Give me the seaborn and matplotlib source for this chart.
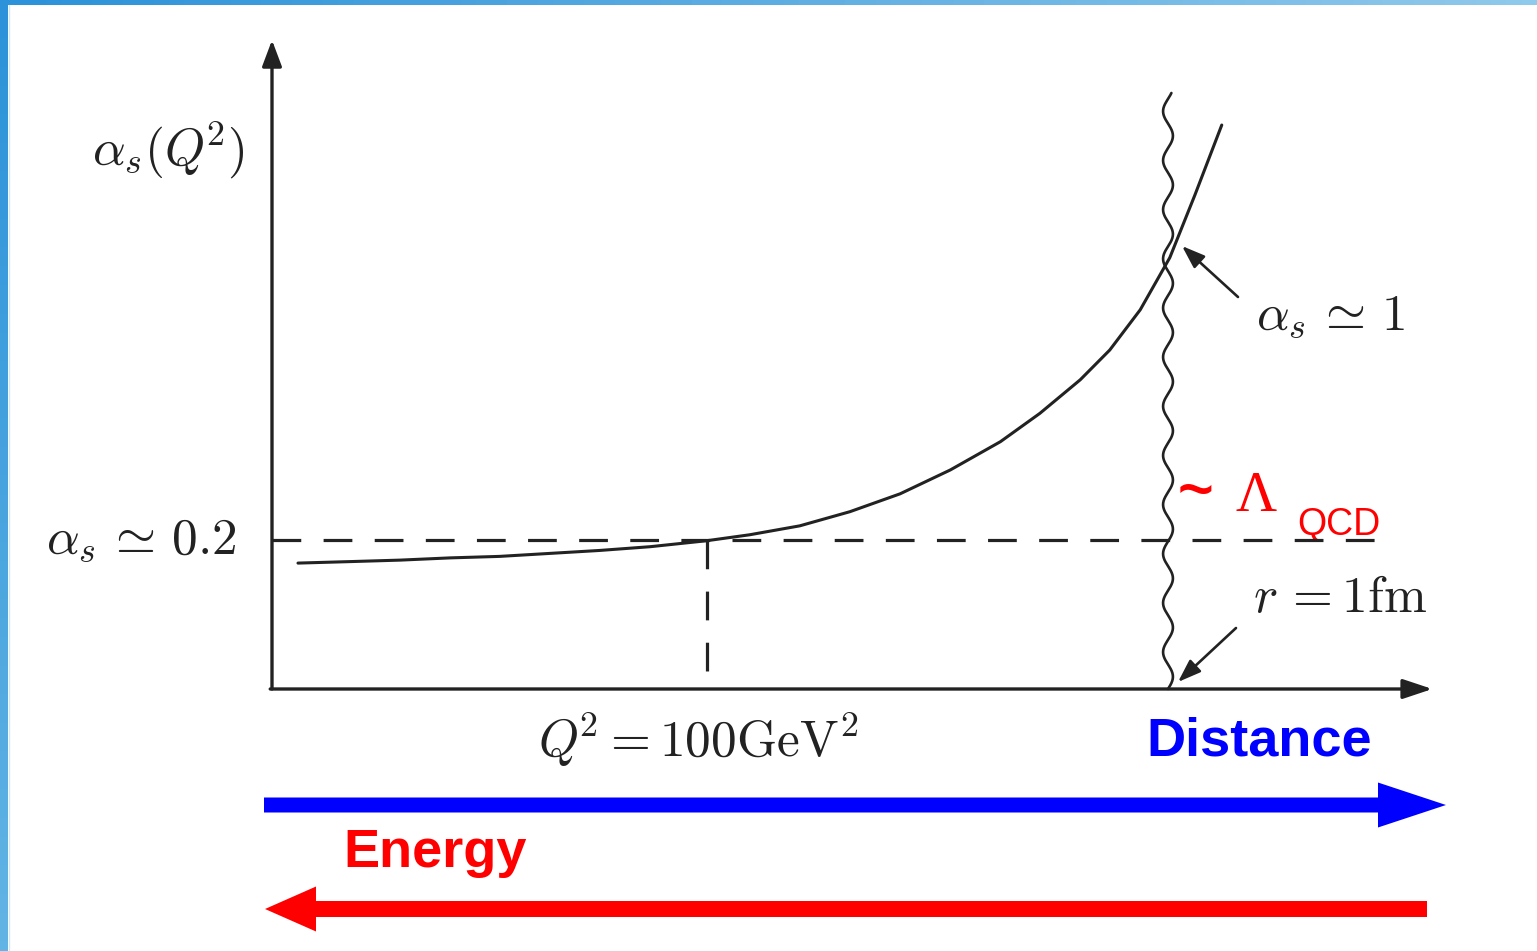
import numpy as np
import matplotlib
matplotlib.use("Agg")
import matplotlib.pyplot as plt
from matplotlib.colors import LinearSegmentedColormap
from matplotlib.patches import FancyArrow
import seaborn as sns
import pandas as pd

# schematic running coupling (r in fm, alpha in schematic units)
r_fm = [0.029, 0.087, 0.143, 0.199, 0.254, 0.310, 0.366, 0.422, 0.485, 0.533, 0.589,
        0.645, 0.701, 0.757, 0.813, 0.857, 0.902, 0.935, 0.969, 1.002, 1.030, 1.060]
alpha = [0.169, 0.171, 0.173, 0.176, 0.178, 0.182, 0.186, 0.191, 0.199, 0.207, 0.219,
         0.238, 0.262, 0.294, 0.332, 0.370, 0.415, 0.455, 0.509, 0.579, 0.663, 0.757]
alpha_ref = 0.2      # alpha_s ~ 0.2
r_ref = 0.485        # Q^2 = 100 GeV^2
r_conf = 1.0         # r = 1 fm
r_dash_end = 1.234
x_axis_end = 1.295
y_axis_end = 0.871
wave_top = 0.80

sns.set_theme(style="white")
plt.rcParams["mathtext.fontset"] = "cm"
plt.rcParams["font.family"] = ["DejaVu Sans"]

W, H = 1537, 951
fig = plt.figure(figsize=(W / 100, H / 100), dpi=100)
fig.patch.set_facecolor("white")

# overlay in pixel coordinates for decoration and labels
ov = fig.add_axes([0, 0, 1, 1])
ov.axis("off")

# blue frame (gradient)
cm_left = LinearSegmentedColormap.from_list("l", ["#2c92d9", "#62b4e4"])
cm_top = LinearSegmentedColormap.from_list("t", ["#2c92d9", "#8fc9eb"])
ov.imshow(np.linspace(0, 1, 100)[:, None], cmap=cm_left, extent=[0, 8, H, 0], aspect="auto")
ov.imshow(np.linspace(0, 1, 100)[None, :], cmap=cm_top, extent=[0, W, 5, 0], aspect="auto")
ov.plot([9, 9], [5, H], color="#cde8f6", lw=1)
ov.set_xlim(0, W)
ov.set_ylim(H, 0)

# data axes, mapped so the schematic sits where it does in the figure
ax = fig.add_axes([0, 0, 1, 1], facecolor="none")
ax.set_xlim(-272 / 896, (W - 272) / 896)
ax.set_ylim(-(H - 689) / 745, 689 / 745)
ax.axis("off")

ink = "#222222"
df = pd.DataFrame({"r": r_fm, "alpha": alpha})
sns.lineplot(data=df, x="r", y="alpha", ax=ax, color=ink, lw=2.2, estimator=None,
             solid_joinstyle="round", solid_capstyle="round")

# coordinate axes with arrowheads
ax.annotate("", xy=(0, y_axis_end), xytext=(0, 0),
            arrowprops=dict(arrowstyle="-|>,head_length=0.8,head_width=0.3", lw=2.4,
                            color=ink, shrinkA=0, shrinkB=0, mutation_scale=20))
ax.annotate("", xy=(x_axis_end, 0), xytext=(-0.002, 0),
            arrowprops=dict(arrowstyle="-|>,head_length=0.9,head_width=0.3", lw=2.4,
                            color=ink, shrinkA=0, shrinkB=0, mutation_scale=20))

# dashed guides
ax.plot([0, r_dash_end], [alpha_ref, alpha_ref], color=ink, lw=2.3, dashes=(9, 7))
ax.plot([r_ref, r_ref], [alpha_ref, 0], color=ink, lw=2.3, dashes=(9, 7))

# wavy line at r = 1 fm
yy = np.linspace(0, wave_top, 600)
ax.plot(r_conf + 0.0055 * np.sin(2 * np.pi * yy / 0.066), yy, color=ink, lw=1.9)

# small pointer arrows
ax.annotate("", xy=((1182 - 272) / 896, (689 - 246) / 745), xytext=((1238 - 272) / 896, (689 - 297) / 745),
            arrowprops=dict(arrowstyle="-|>,head_length=0.7,head_width=0.25", lw=1.9,
                            color=ink, shrinkA=0, shrinkB=0, mutation_scale=20))
ax.annotate("", xy=((1178 - 272) / 896, (689 - 682) / 745), xytext=((1236 - 272) / 896, (689 - 628) / 745),
            arrowprops=dict(arrowstyle="-|>,head_length=0.7,head_width=0.25", lw=1.9,
                            color=ink, shrinkA=0, shrinkB=0, mutation_scale=20))

# labels
fs = 37
ov.text(92, 150, r"$\alpha_s(Q^{\!2})$", fontsize=fs, color=ink, va="center", ha="left")
ov.text(46, 540, r"$\alpha_s\,\simeq\,0.2$", fontsize=fs, color=ink, va="center", ha="left")
ov.text(1256, 316, r"$\alpha_s\,\simeq\,1$", fontsize=fs, color=ink, va="center", ha="left")
ov.text(1253, 598, r"$r\, = 1\mathrm{fm}$", fontsize=fs, color=ink, va="center", ha="left")
ov.text(538, 740, r"$Q^{\!2} = 100\mathrm{GeV}^2$", fontsize=fs, color=ink, va="center", ha="left")

ov.text(1146, 742, "Distance", fontsize=39, fontweight="bold", color="#0000ff",
        family=["Liberation Sans", "DejaVu Sans"], va="center", ha="left")
ov.text(343, 853, "Energy", fontsize=39, fontweight="bold", color="#ff0000",
        family=["Liberation Sans", "DejaVu Sans"], va="center", ha="left")
ov.text(1178, 494, "~", fontsize=44, fontweight="bold", color="#ff0000",
        family=["Liberation Sans", "DejaVu Sans"], va="center", ha="left")
ov.text(1236, 497, "Λ", fontsize=41, color="#ff0000",
        family=["Liberation Serif", "DejaVu Serif"], va="center", ha="left")
ov.text(1297, 525, "QCD", fontsize=27, color="#ff0000",
        family=["Liberation Sans", "DejaVu Sans"], va="center", ha="left")

# direction arrows
ov.add_patch(FancyArrow(264, 805, 1446 - 264, 0, width=15, head_width=45, head_length=68,
                        length_includes_head=True, color="#0000ff", lw=0))
ov.add_patch(FancyArrow(1427, 909, 265 - 1427, 0, width=16, head_width=45, head_length=51,
                        length_includes_head=True, color="#ff0000", lw=0))

fig.savefig("out.png", dpi=100)
